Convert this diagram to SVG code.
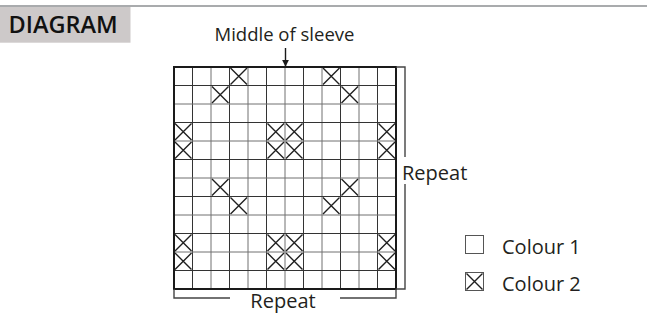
<svg xmlns="http://www.w3.org/2000/svg" xmlns:xlink="http://www.w3.org/1999/xlink" width="647" height="320" viewBox="0 0 647 320">
  <style>
    text { font-family: "Open Sans", "Noto Sans", "DejaVu Sans", sans-serif; fill: #231f20; }
    .lbl { font-size: 20px; }
    .top { font-size: 18.5px; }
    .title { font-size: 23.5px; font-weight: 600; fill: #111; }
    .gd { stroke: #333; stroke-width: 1; fill: none; }
    .gl { stroke: #707070; stroke-width: 1; fill: none; }
    .border { stroke: #1a1a1a; stroke-width: 2; fill: none; }
    .xmark { stroke: #1f1f1f; stroke-width: 1.4; fill: none; }
    .bracket { stroke: #444; stroke-width: 1.4; fill: none; }
    .lbox { stroke: #555; stroke-width: 1; fill: #fff; }
  </style>
  <defs>
    <path id="x" d="M1,1 L17.5,17.5 M17.5,1 L1,17.5" class="xmark"/>
    <marker id="arr" viewBox="0 0 10 10" refX="9" refY="5" markerWidth="7" markerHeight="7" orient="auto" markerUnits="userSpaceOnUse">
      <path d="M0,0 L10,5 L0,10 Z" fill="#1a1a1a"/>
    </marker>
  </defs>
  <rect width="647" height="320" fill="#fff"/>
  <g id="header">
    <line x1="0" y1="6" x2="647" y2="6" stroke="#8c8f92" stroke-width="1.6"/>
    <rect x="0" y="7" width="130.5" height="35.7" fill="#cdc9c9"/>
    <text class="title" x="8.5" y="33.3">DIAGRAM</text>
  </g>
  <g id="chart">
    <rect x="174" y="67" width="222" height="222" fill="#fff"/>
    <g id="gridlines">
      <path class="gd" d="M192.5,67V289 M229.5,67V289 M266.5,67V289 M303.5,67V289 M340.5,67V289 M377.5,67V289"/>
      <path class="gl" d="M211,67V289 M248,67V289 M285,67V289 M322,67V289 M359,67V289"/>
      <path class="gd" d="M174,85.5H396 M174,122.5H396 M174,159.5H396 M174,196.5H396 M174,233.5H396 M174,270.5H396"/>
      <path class="gl" d="M174,104H396 M174,141H396 M174,178H396 M174,215H396 M174,252H396"/>
    </g>
    <g id="crosses">
      <use xlink:href="#x" x="229.5" y="67"/>
      <use xlink:href="#x" x="322" y="67"/>
      <use xlink:href="#x" x="211" y="85.5"/>
      <use xlink:href="#x" x="340.5" y="85.5"/>
      <use xlink:href="#x" x="174" y="122.5"/>
      <use xlink:href="#x" x="266.5" y="122.5"/>
      <use xlink:href="#x" x="285" y="122.5"/>
      <use xlink:href="#x" x="377.5" y="122.5"/>
      <use xlink:href="#x" x="174" y="141"/>
      <use xlink:href="#x" x="266.5" y="141"/>
      <use xlink:href="#x" x="285" y="141"/>
      <use xlink:href="#x" x="377.5" y="141"/>
      <use xlink:href="#x" x="211" y="178"/>
      <use xlink:href="#x" x="340.5" y="178"/>
      <use xlink:href="#x" x="229.5" y="196.5"/>
      <use xlink:href="#x" x="322" y="196.5"/>
      <use xlink:href="#x" x="174" y="233.5"/>
      <use xlink:href="#x" x="266.5" y="233.5"/>
      <use xlink:href="#x" x="285" y="233.5"/>
      <use xlink:href="#x" x="377.5" y="233.5"/>
      <use xlink:href="#x" x="174" y="252"/>
      <use xlink:href="#x" x="266.5" y="252"/>
      <use xlink:href="#x" x="285" y="252"/>
      <use xlink:href="#x" x="377.5" y="252"/>
    </g>
    <rect class="border" x="174" y="67" width="222" height="222"/>
  </g>
  <g id="connectors">
    <line x1="285.5" y1="48" x2="285.5" y2="66" stroke="#1a1a1a" stroke-width="1.4" marker-end="url(#arr)"/>
    <path class="bracket" d="M396,67 H405 V157 M405,184 V289 H396"/>
    <path class="bracket" d="M174,289 V298 H230 M340,298 H396 V289"/>
  </g>
  <g id="labels">
    <text class="top" x="284.5" y="41" text-anchor="middle">Middle of sleeve</text>
    <text class="lbl" x="283" y="308" text-anchor="middle">Repeat</text>
    <text class="lbl" x="402" y="180">Repeat</text>
  </g>
  <g id="legend">
    <g id="legend-colour1">
      <rect class="lbox" x="465.5" y="235.5" width="18" height="18"/>
      <text class="lbl" x="502" y="254">Colour 1</text>
    </g>
    <g id="legend-colour2">
      <rect class="lbox" x="465.5" y="272.5" width="18" height="18"/>
      <path class="xmark" d="M466.5,273.5 L482.5,289.5 M482.5,273.5 L466.5,289.5" stroke-width="1.2"/>
      <text class="lbl" x="502" y="290.7">Colour 2</text>
    </g>
  </g>
</svg>
